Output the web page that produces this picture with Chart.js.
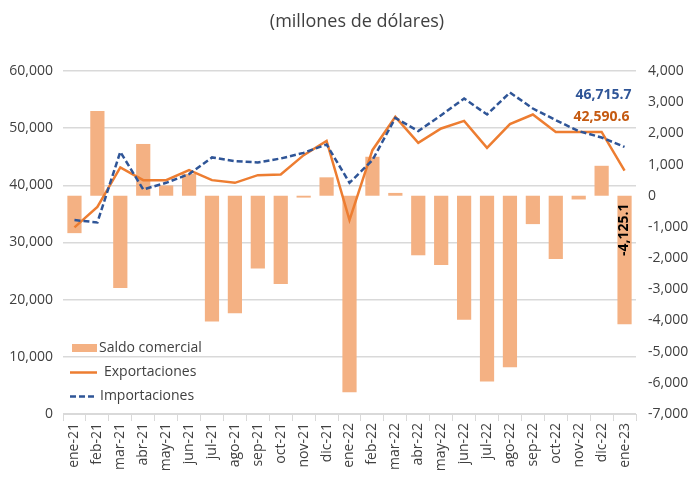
<!DOCTYPE html>
<html>
<head>
<meta charset="utf-8">
<script src="https://cdn.jsdelivr.net/npm/chart.js@4"></script>
<style>
html,body{margin:0;padding:0;background:#fff;}
#wrap{width:690px;height:481px;}
</style>
</head>
<body>
<div id="wrap"><canvas id="c" width="690" height="481"></canvas></div>
<script>
const categories = ["ene-21","feb-21","mar-21","abr-21","may-21","jun-21","jul-21","ago-21","sep-21","oct-21","nov-21","dic-21",
  "ene-22","feb-22","mar-22","abr-22","may-22","jun-22","jul-22","ago-22","sep-22","oct-22","nov-22","dic-22","ene-23"];
const saldoComercial = [-1200,2720,-2960,1660,330,700,-4030,-3770,-2330,-2830,-60,590,
  -6300,1250,90,-1910,-2220,-3980,-5960,-5500,-910,-2030,-120,960,-4125.1];
const exportaciones = [32640,36240,43130,40910,40910,42660,40910,40440,41780,41900,45280,47780,
  33920,46150,51980,47430,49940,51280,46560,50700,52390,49350,49350,49350,42590.6];
const importaciones = [33920,33510,45860,39280,40440,41960,44880,44230,44000,44700,45680,47150,
  40440,44400,51800,49480,52270,55190,52390,56240,53440,51400,49480,48370,46715.7];
const leftTicks = [0,10000,20000,30000,40000,50000,60000];
const rightTicks = [-7000,-6000,-5000,-4000,-3000,-2000,-1000,0,1000,2000,3000,4000];
const titleText = "(millones de dólares)";

const FONT = "'Open Sans', sans-serif";
const BAR = "#F4B183", EXP = "#ED7D31", IMP = "#2F5597";
const fmt = v => v.toLocaleString('en-US');
const fmt1 = v => v.toLocaleString('en-US',{minimumFractionDigits:1,maximumFractionDigits:1});

const titlePlugin = {
  id: 'customTitle',
  afterDraw(chart){
    const ctx = chart.ctx;
    ctx.save();
    ctx.font = "18px " + FONT;
    ctx.fillStyle = "#404040";
    ctx.textAlign = "center";
    ctx.textBaseline = "middle";
    ctx.fillText(titleText, 357, 22);
    ctx.restore();
  }
};

const legendPlugin = {
  id: 'customLegend',
  afterDraw(chart){
    const ctx = chart.ctx;
    ctx.save();
    ctx.font = "14px " + FONT;
    ctx.textBaseline = "middle";
    ctx.fillStyle = BAR;
    ctx.fillRect(72, 344, 25, 8);
    ctx.fillStyle = "#404040";
    ctx.fillText(chart.data.datasets[0].label, 99, 348);
    ctx.strokeStyle = EXP; ctx.lineWidth = 2.5;
    ctx.beginPath(); ctx.moveTo(70, 372.5); ctx.lineTo(97, 372.5); ctx.stroke();
    ctx.fillText(chart.data.datasets[1].label, 104, 372);
    ctx.strokeStyle = IMP; ctx.setLineDash([6,3]);
    ctx.beginPath(); ctx.moveTo(70, 396.5); ctx.lineTo(97, 396.5); ctx.stroke();
    ctx.setLineDash([]);
    ctx.fillText(chart.data.datasets[2].label, 100, 396);
    ctx.restore();
  }
};

const labelsPlugin = {
  id: 'lastLabels',
  afterDatasetsDraw(chart){
    const ctx = chart.ctx;
    const n = categories.length - 1;
    ctx.save();
    ctx.font = "bold 14px " + FONT;
    ctx.textBaseline = "middle";
    ctx.textAlign = "right";
    const pImp = chart.getDatasetMeta(2).data[n];
    const pExp = chart.getDatasetMeta(1).data[n];
    ctx.fillStyle = IMP;
    ctx.fillText(fmt1(importaciones[n]), pImp.x + 7, pImp.y - 52);
    ctx.fillStyle = "#C55A11";
    ctx.fillText(fmt1(exportaciones[n]), pExp.x + 5, pExp.y - 54);
    const bar = chart.getDatasetMeta(0).data[n];
    ctx.fillStyle = "#000";
    ctx.translate(bar.x - 1, bar.base + 34);
    ctx.rotate(-Math.PI/2);
    ctx.textAlign = "center";
    ctx.fillText(fmt1(saldoComercial[n]), 0, 0);
    ctx.restore();
  }
};

new Chart(document.getElementById('c'), {
  type: 'bar',
  data: {
    labels: categories,
    datasets: [
      {type:'bar', label:'Saldo comercial', data: saldoComercial, backgroundColor: BAR, yAxisID:'y1',
       barPercentage:0.62, categoryPercentage:1, order:3},
      {type:'line', label:'Exportaciones', data: exportaciones, borderColor: EXP, backgroundColor: EXP,
       borderWidth:2.5, pointRadius:0, tension:0, yAxisID:'y', order:2},
      {type:'line', label:'Importaciones', data: importaciones, borderColor: IMP, backgroundColor: IMP,
       borderWidth:2.5, borderDash:[6,3], pointRadius:0, tension:0, yAxisID:'y', order:1}
    ]
  },
  options: {
    responsive:false,
    animation:false,
    layout:{padding:{left:0,right:0,top:71,bottom:0}},
    plugins:{
      legend:{display:false},
      tooltip:{enabled:false},
      title:{display:false}
    },
    scales:{
      x:{
        grid:{display:true, drawOnChartArea:false, drawTicks:true, tickLength:7, color:'#d9d9d9', offset:true},
        border:{color:'#d9d9d9'},
        ticks:{color:'#404040', font:{family:FONT,size:14}, maxRotation:90, minRotation:90, autoSkip:false, padding:2},
        afterFit(s){ s.height = 67; }
      },
      y:{
        position:'left', min:0, max:60000,
        afterBuildTicks(s){ s.ticks = leftTicks.map(v=>({value:v})); },
        grid:{color:'#d9d9d9', drawTicks:false, lineWidth:1.5},
        border:{display:false},
        ticks:{color:'#404040', font:{family:FONT,size:14}, padding:10, callback:v=>fmt(v)},
        afterFit(s){ s.width = 63; }
      },
      y1:{
        position:'right', min:-7000, max:4000,
        afterBuildTicks(s){ s.ticks = rightTicks.map(v=>({value:v})); },
        grid:{display:false, drawTicks:false},
        border:{display:false},
        ticks:{color:'#404040', font:{family:FONT,size:14}, padding:12, callback:v=>fmt(v)},
        afterFit(s){ s.width = 54; }
      }
    }
  },
  plugins:[titlePlugin, legendPlugin, labelsPlugin]
});
</script>
</body>
</html>
